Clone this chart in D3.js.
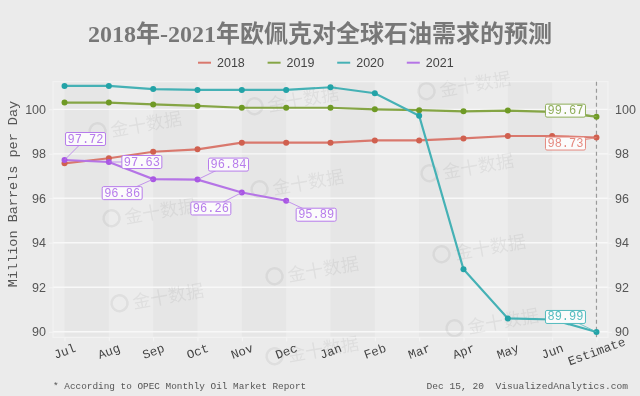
<!DOCTYPE html>
<html>
<head>
<meta charset="utf-8">
<script src="https://cdn.jsdelivr.net/npm/d3@7"></script>
<style>
  body { margin: 0; background: #ebebeb; }
  svg { display: block; }
</style>
</head>
<body>
<svg id="chart" width="640" height="396"></svg>
<script>
// data
const months = ["Jul", "Aug", "Sep", "Oct", "Nov", "Dec", "Jan", "Feb", "Mar", "Apr", "May", "Jun", "Estimate"];
const years = ["2018", "2019", "2020", "2021"];
const d2018 = [97.57, 97.80, 98.09, 98.20, 98.50, 98.50, 98.50, 98.60, 98.60, 98.69, 98.80, 98.80, 98.73];
const d2019 = [100.30, 100.30, 100.22, 100.15, 100.07, 100.07, 100.07, 100.00, 99.96, 99.91, 99.94, 99.88, 99.67];
const d2020 = [101.05, 101.05, 100.91, 100.87, 100.87, 100.87, 100.99, 100.72, 99.71, 92.81, 90.60, 90.55, 89.99];
const d2021 = [97.72, 97.63, 96.86, 96.84, 96.26, 95.89];
const yTicks = [90, 92, 94, 96, 98, 100];

const lineColors = ["#d9786d", "#85a545", "#45b1b5", "#b574e6"];
const dotColors = ["#d0604f", "#6f9a25", "#23a3a7", "#a957e3"];
const labelColors = ["#e58a80", "#8fae5a", "#55bcbf", "#b77ceb"];

const series = [d2018, d2019, d2020, d2021].map((vals, i) => ({
  name: years[i],
  color: lineColors[i],
  dot: dotColors[i],
  lab: labelColors[i],
  pts: vals.map((v, j) => ({ m: months[j], v: v }))
}));

// labelled points: [series index, month index, dx, dy] (box centre offset)
const labelled = [
  [3, 0, 21, -21], [3, 1, 33, 0], [3, 2, -31, 14], [3, 3, 31, -15],
  [3, 4, -31, 16], [3, 5, 30, 14],
  [1, 12, -31, -6], [0, 12, -31, 6], [2, 12, -31, -15]
];

const svg = d3.select("#chart");
const W = 640, H = 396;
const pLeft = 53, pRight = 608, pTop = 81.7, pBottom = 337.3;

svg.append("rect").attr("width", W).attr("height", H).attr("fill", "#ebebeb");

const x = d3.scalePoint().domain(months).range([pLeft, pRight]).padding(0.26);
const y = d3.scaleLinear().domain([89.75, 101.24]).range([pBottom, pTop]);
const step = x.step();

// plot background + alternating bands
svg.append("rect").attr("x", pLeft).attr("y", pTop)
  .attr("width", pRight - pLeft).attr("height", pBottom - pTop).attr("fill", "#ececec");

svg.selectAll("rect.band")
  .data(months.slice(0, -1).filter((m, i) => i % 2 === 0))
  .enter().append("rect")
  .attr("class", "band")
  .attr("x", d => x(d)).attr("y", pTop)
  .attr("width", step).attr("height", pBottom - pTop)
  .attr("fill", "#e6e6e6");

// horizontal grid
svg.selectAll("line.grid")
  .data(yTicks)
  .enter().append("line")
  .attr("x1", pLeft).attr("x2", pRight)
  .attr("y1", d => y(d)).attr("y2", d => y(d))
  .attr("stroke", "#f8f8f8").attr("stroke-width", 1.3);

// watermarks
const marks = [[133, 125], [290, 100], [462, 85], [147, 212], [295, 183], [465, 167],
  [155, 297], [310, 270], [477, 248], [310, 350], [490, 322]];
const wm = svg.append("g").attr("opacity", 0.055);
marks.forEach(p => {
  const g = wm.append("g").attr("transform", `translate(${p[0]},${p[1]}) rotate(-10)`);
  g.append("circle").attr("cx", -36).attr("cy", 0).attr("r", 8)
    .attr("fill", "none").attr("stroke", "#000").attr("stroke-width", 2.5);
  g.append("text").attr("x", -23).attr("y", 0).attr("dominant-baseline", "central")
    .attr("font-family", "Noto Sans CJK SC")
    .attr("font-size", 18).attr("fill", "#000").text("金十数据");
});

// plot frame
svg.append("rect").attr("x", pLeft).attr("y", pTop)
  .attr("width", pRight - pLeft).attr("height", pBottom - pTop)
  .attr("fill", "none").attr("stroke", "#f4f4f4").attr("stroke-width", 1);

// estimate marker
svg.append("line")
  .attr("x1", x("Estimate")).attr("x2", x("Estimate"))
  .attr("y1", pTop).attr("y2", pBottom)
  .attr("stroke", "#9a9a9a").attr("stroke-width", 1.2)
  .attr("stroke-dasharray", "4,3");

// axes
const axisFont = "Liberation Sans, Arial, sans-serif";
const monoFont = "Liberation Mono, Courier New, monospace";

const yLeft = svg.append("g").attr("transform", `translate(${pLeft},0)`)
  .call(d3.axisLeft(y).tickValues(yTicks).tickSize(4).tickPadding(3));
const yRight = svg.append("g").attr("transform", `translate(${pRight},0)`)
  .call(d3.axisRight(y).tickValues(yTicks).tickSize(4).tickPadding(3));
[yLeft, yRight].forEach(g => {
  g.select(".domain").remove();
  g.selectAll("line").attr("stroke", "#f4f4f4");
  g.selectAll("text").attr("font-family", axisFont).attr("font-size", 12.5).attr("fill", "#555");
});

const xAxis = svg.append("g").attr("transform", `translate(0,${pBottom})`)
  .call(d3.axisBottom(x).tickSize(4));
xAxis.select(".domain").remove();
xAxis.selectAll("line").attr("stroke", "#f4f4f4");
xAxis.selectAll("text")
  .attr("font-family", monoFont).attr("font-size", 12.5).attr("fill", "#444")
  .attr("text-anchor", "middle").attr("dy", null)
  .attr("y", 0).attr("dominant-baseline", "central")
  .attr("transform", "translate(0,15) rotate(-20)");

// y title
svg.append("text")
  .attr("transform", "translate(13,194) rotate(-90)")
  .attr("text-anchor", "middle").attr("dominant-baseline", "central")
  .attr("font-family", monoFont).attr("font-size", 13.5).attr("fill", "#555")
  .text("Million Barrels per Day");

// lines + points
const line = d3.line().x(d => x(d.m)).y(d => y(d.v));
series.forEach(s => {
  svg.append("path").datum(s.pts)
    .attr("d", line).attr("fill", "none")
    .attr("stroke", s.color).attr("stroke-width", 2.2);
  svg.selectAll(null).data(s.pts).enter().append("circle")
    .attr("cx", d => x(d.m)).attr("cy", d => y(d.v)).attr("r", 3)
    .attr("fill", s.dot);
});

// value labels
const lab = svg.append("g");
labelled.forEach(l => {
  const s = series[l[0]], p = s.pts[l[1]];
  const px = x(p.m), py = y(p.v);
  const cx = px + l[2], cy = py + l[3];
  lab.append("line").attr("x1", px).attr("y1", py).attr("x2", cx).attr("y2", cy)
    .attr("stroke", s.lab).attr("stroke-width", 0.8);
  lab.append("rect").attr("x", cx - 20).attr("y", cy - 6.5)
    .attr("width", 40).attr("height", 13).attr("rx", 1.5)
    .attr("fill", "#fbfbfb").attr("stroke", s.lab).attr("stroke-width", 1);
  lab.append("text").attr("x", cx).attr("y", cy + 0.5)
    .attr("text-anchor", "middle").attr("dominant-baseline", "central")
    .attr("font-family", monoFont).attr("font-size", 12).attr("fill", s.lab)
    .text(p.v.toFixed(2));
});

// title
svg.append("text")
  .attr("x", 320).attr("y", 34)
  .attr("text-anchor", "middle").attr("dominant-baseline", "central")
  .attr("font-family", "Liberation Serif, Noto Sans CJK SC, serif")
  .attr("font-weight", "bold").attr("font-size", 24).attr("fill", "#777")
  .text("2018年-2021年欧佩克对全球石油需求的预测");

// legend
const leg = svg.append("g").attr("transform", "translate(198,62.7)");
series.forEach((s, i) => {
  const g = leg.append("g").attr("transform", `translate(${i * 69.6},0)`);
  g.append("line").attr("x1", 0).attr("x2", 13).attr("y1", 0).attr("y2", 0)
    .attr("stroke", s.color).attr("stroke-width", 2);
  g.append("text").attr("x", 19).attr("y", 0).attr("dominant-baseline", "central")
    .attr("font-family", axisFont).attr("font-size", 12.5).attr("fill", "#444")
    .text(s.name);
});

// footnotes
svg.append("text").attr("x", 53).attr("y", 386)
  .attr("dominant-baseline", "central")
  .attr("font-family", monoFont).attr("font-size", 9.4).attr("fill", "#555")
  .text("* According to OPEC Monthly Oil Market Report");
svg.append("text").attr("x", 628).attr("y", 386)
  .attr("text-anchor", "end").attr("dominant-baseline", "central")
  .attr("font-family", monoFont).attr("font-size", 9.6).attr("fill", "#555")
  .attr("xml:space", "preserve")
  .text("Dec 15, 20  VisualizedAnalytics.com");
</script>
</body>
</html>
